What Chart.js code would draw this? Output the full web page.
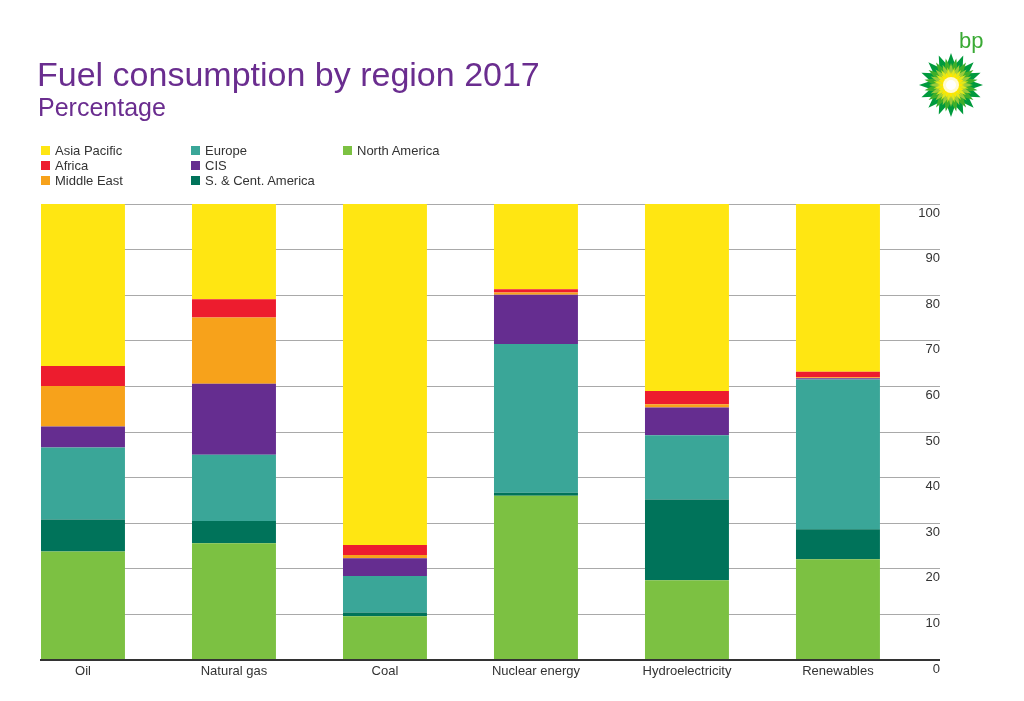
<!DOCTYPE html>
<html>
<head>
<meta charset="utf-8">
<script src="https://cdn.jsdelivr.net/npm/chart.js@4.4.1/dist/chart.umd.min.js"></script>
<style>
  html, body { margin: 0; padding: 0; background: #fff; }
  #wrap { position: relative; width: 1024px; height: 701px; overflow: hidden; font-family: "Liberation Sans", Arial, sans-serif; }
  #c { position: absolute; left: 0; top: 0; }
  .title { position: absolute; left: 37px; top: 57px; font-size: 34px; line-height: 34px; color: #6a2d8f; white-space: nowrap; }
  .subtitle { position: absolute; left: 38px; top: 95px; font-size: 25px; line-height: 25px; color: #6a2d8f; white-space: nowrap; }
  .leg { position: absolute; font-size: 13px; line-height: 15px; color: #333; white-space: nowrap; }
  .leg .sw { display: inline-block; width: 9px; height: 9px; margin-right: 5px; vertical-align: -0px; }
  #logo { position: absolute; left: 910px; top: 22px; }
</style>
</head>
<body>
<div id="wrap">
  <canvas id="c" width="1024" height="701"></canvas>
  <div class="title">Fuel consumption by region 2017</div>
  <div class="subtitle">Percentage</div>
  <div id="legend"></div>
  <svg id="logo" width="90" height="100" viewBox="0 0 90 100"></svg>
</div>
<script>
// ---- Data ----
const fuels = ["Oil", "Natural gas", "Coal", "Nuclear energy", "Hydroelectricity", "Renewables"];
const yTicks = [0, 10, 20, 30, 40, 50, 60, 70, 80, 90, 100];

const northAmerica = [23.8, 25.6, 9.6, 36.0, 17.5, 22.1];
const scAmerica    = [7.0, 4.9, 0.8, 0.7, 17.7, 6.6];
const europe       = [15.8, 14.5, 8.0, 32.6, 14.1, 32.8];
const cis          = [4.6, 15.6, 3.9, 10.8, 6.1, 0.3];
const middleEast   = [8.9, 14.5, 0.7, 0.5, 0.7, 0.2];
const africa       = [4.4, 4.0, 2.2, 0.7, 2.9, 1.2];
const asiaPacific  = [35.5, 20.9, 74.8, 18.7, 41.0, 36.8];

// stack order bottom -> top
const seriesNames = ["North America", "S. & Cent. America", "Europe", "CIS", "Middle East", "Africa", "Asia Pacific"];
const seriesData  = [northAmerica, scAmerica, europe, cis, middleEast, africa, asiaPacific];
const seriesColors = ["#7cc142", "#00735a", "#3aa698", "#652d90", "#f7a21b", "#ed1c2e", "#ffe612"];

// ---- Legend (column-major, 3 rows) ----
const legendOrder = ["Asia Pacific", "Africa", "Middle East", "Europe", "CIS", "S. & Cent. America", "North America"];
const legCols = [41, 191, 343];
const legRows = [143, 158, 173];
const legEl = document.getElementById('legend');
legendOrder.forEach((name, k) => {
  const idx = seriesNames.indexOf(name);
  const d = document.createElement('div');
  d.className = 'leg';
  d.style.left = legCols[Math.floor(k / 3)] + 'px';
  d.style.top = legRows[k % 3] + 'px';
  d.innerHTML = '<span class="sw" style="background:' + seriesColors[idx] + '"></span>' + name;
  legEl.appendChild(d);
});

// ---- Logo ----
(function () {
  const svg = document.getElementById('logo');
  const ns = 'http://www.w3.org/2000/svg';
  const cx = 41, cy = 63;
  function star(n, rOut, rIn, rot, fill) {
    let pts = [];
    for (let i = 0; i < n * 2; i++) {
      const r = i % 2 === 0 ? rOut : rIn;
      const a = rot + Math.PI * i / n;
      pts.push((cx + r * Math.sin(a)).toFixed(2) + ',' + (cy - r * Math.cos(a)).toFixed(2));
    }
    const p = document.createElementNS(ns, 'polygon');
    p.setAttribute('points', pts.join(' '));
    p.setAttribute('fill', fill);
    svg.appendChild(p);
  }
  star(16, 32, 21, 0, '#009a3d');
  star(16, 27, 17, Math.PI / 16, '#3fae2a');
  star(16, 22, 13, 0, '#9ccb3b');
  star(16, 18, 10, Math.PI / 16, '#e3e81b');
  star(16, 14, 8, 0, '#ffe600');
  const c = document.createElementNS(ns, 'circle');
  c.setAttribute('cx', cx); c.setAttribute('cy', cy); c.setAttribute('r', 8);
  c.setAttribute('fill', '#fffbd0');
  svg.appendChild(c);
  const c2 = document.createElementNS(ns, 'circle');
  c2.setAttribute('cx', cx); c2.setAttribute('cy', cy); c2.setAttribute('r', 5);
  c2.setAttribute('fill', '#ffffff');
  svg.appendChild(c2);
  const t = document.createElementNS(ns, 'text');
  t.setAttribute('x', 49); t.setAttribute('y', 26);
  t.setAttribute('font-family', 'Liberation Sans, Arial, sans-serif');
  t.setAttribute('font-size', '22'); t.setAttribute('fill', '#3aaa35');
  t.textContent = 'bp';
  svg.appendChild(t);
})();

// ---- Chart ----
Chart.defaults.font.family = '"Liberation Sans", Arial, sans-serif';
Chart.defaults.font.size = 13;
Chart.defaults.color = '#333';

const datasets = seriesNames.map((name, s) => ({
  label: name,
  data: seriesData[s].map((v, i) => ({ x: i, y: v })),
  backgroundColor: seriesColors[s],
  borderWidth: 0,
  barPercentage: 0.556,
  categoryPercentage: 1.0
}));

new Chart(document.getElementById('c'), {
  type: 'bar',
  data: { datasets },
  options: {
    responsive: false,
    animation: false,
    devicePixelRatio: 1,
    layout: { padding: { left: 41, top: 204, right: 84, bottom: 0 } },
    plugins: { legend: { display: false }, tooltip: { enabled: false }, title: { display: false } },
    scales: {
      x: {
        type: 'linear',
        stacked: true,
        offset: false,
        min: -0.278,
        max: 5.444,
        z: 1,
        afterBuildTicks: (s) => { s.ticks = fuels.map((f, i) => ({ value: i })); },
        afterFit: (s) => { s.height = 41; },
        grid: { display: false, drawTicks: false, tickLength: 0 },
        border: { display: true, color: '#333', width: 2 },
        ticks: { padding: 4, maxRotation: 0, autoSkip: false, callback: (v) => fuels[v] !== undefined ? fuels[v] : '' }
      },
      y: {
        type: 'linear',
        position: 'right',
        stacked: true,
        min: 0,
        max: 100,
        afterBuildTicks: (s) => { s.ticks = yTicks.map(v => ({ value: v })); },
        afterFit: (s) => { s.width = 35; },
        grid: {
          color: (ctx) => ctx.tick && ctx.tick.value === 0 ? '#333' : '#a9a9a9',
          lineWidth: (ctx) => ctx.tick && ctx.tick.value === 0 ? 2 : 1,
          drawTicks: true,
          tickLength: 35
        },
        border: { display: false },
        ticks: { crossAlign: 'far', labelOffset: 9, padding: 0, color: '#333' }
      }
    }
  }
});
</script>
</body>
</html>
